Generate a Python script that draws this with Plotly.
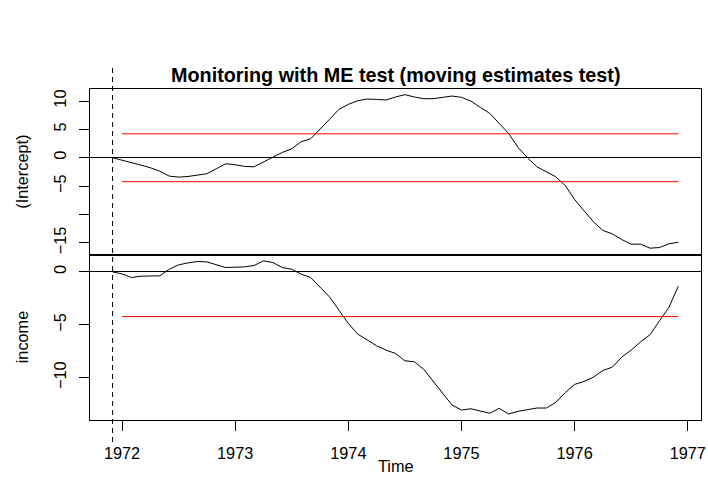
import numpy as np
import plotly.graph_objects as go

# ---- data (monthly, Dec 1971 .. Dec 1976) ----
start_year = 1971 + 11/12
n_obs = 61
time = [start_year + i/12 for i in range(n_obs)]

intercept = [0.0, -0.41, -0.76, -1.29, -1.76, -2.35, -3.23, -3.41, -3.30, -3.10,
             -2.82, -1.94, -1.06, -1.23, -1.53, -1.59, -0.76, 0.12, 0.94, 1.59,
             2.82, 3.35, 5.00, 6.76, 8.53, 9.41, 10.06, 10.35, 10.29, 10.18,
             10.71, 11.12, 10.71, 10.41, 10.41, 10.71, 10.88, 10.65, 10.00, 8.88,
             7.82, 6.06, 4.29, 1.82, 0.00, -1.59, -2.41, -3.35, -4.88, -7.35,
             -9.35, -11.29, -12.82, -13.41, -14.41, -15.23, -15.23, -15.94, -15.82, -15.18,
             -14.88]

income = [0.0, -0.19, -0.53, -0.41, -0.39, -0.38, 0.25, 0.66, 0.85, 0.98,
          0.94, 0.69, 0.41, 0.44, 0.47, 0.60, 1.04, 0.88, 0.41, 0.25,
          -0.22, -0.53, -1.41, -2.36, -3.61, -4.87, -5.88, -6.44, -6.98, -7.39,
          -7.70, -8.40, -8.49, -9.21, -10.31, -11.47, -12.58, -13.05, -12.93, -13.14,
          -13.35, -12.89, -13.42, -13.17, -13.02, -12.86, -12.86, -12.33, -11.41, -10.63,
          -10.35, -9.94, -9.31, -9.00, -8.05, -7.39, -6.60, -5.94, -4.62, -3.36,
          -1.35]

boundary_level = 4.22
boundary_x = [1972.0, 1976 + 11/12]
x_ticks = [1972, 1973, 1974, 1975, 1976, 1977]
y1_ticks = [10, 5, 0, -5, -10, -15]
y1_ticktext = ["10", "5", "0", "\u22125", "", "\u221215"]
y2_ticks = [0, -5, -10]
y2_ticktext = ["0", "\u22125", "\u221210"]

FONT = "Liberation Sans, Arial, Helvetica, sans-serif"
FS = 16.3

fig = go.Figure()
# top panel
fig.add_trace(go.Scatter(x=time, y=intercept, mode="lines",
                         line=dict(color="black", width=1), xaxis="x", yaxis="y"))
for s in (1, -1):
    fig.add_trace(go.Scatter(x=boundary_x, y=[s*boundary_level]*2, mode="lines",
                             line=dict(color="#ff0000", width=1), xaxis="x", yaxis="y"))
# bottom panel
fig.add_trace(go.Scatter(x=time, y=income, mode="lines",
                         line=dict(color="black", width=1), xaxis="x2", yaxis="y2"))
for s in (1, -1):
    fig.add_trace(go.Scatter(x=boundary_x, y=[s*boundary_level]*2, mode="lines",
                             line=dict(color="#ff0000", width=1), xaxis="x2", yaxis="y2"))

xrange = [1971.717, 1977.117]
common_y = dict(showgrid=False, ticks="outside", ticklen=10, tickcolor="black",
                tickangle=-90, showline=True, linecolor="black", linewidth=1, mirror=True,
                zeroline=True, zerolinecolor="black", zerolinewidth=1, automargin=False,
                tickfont=dict(family=FONT, size=FS, color="black"), ticklabelstandoff=6)

fig.update_layout(
    width=708, height=500,
    paper_bgcolor="white", plot_bgcolor="white",
    margin=dict(l=90, r=7, t=89, b=80, autoexpand=False),
    showlegend=False,
    xaxis=dict(domain=[0, 1], anchor="y", range=xrange, showgrid=False, zeroline=False,
               showticklabels=False, ticks="", showline=True, linecolor="black",
               linewidth=1, mirror=True, automargin=False),
    yaxis=dict(domain=[0.5, 1], anchor="x", range=[-17.05, 12.12],
               tickvals=y1_ticks, ticktext=y1_ticktext, **common_y),
    xaxis2=dict(domain=[0, 1], anchor="y2", range=xrange, showgrid=False, zeroline=False,
                tickvals=x_ticks, ticks="outside", ticklen=10, tickcolor="black",
                showline=True, linecolor="black", linewidth=1, mirror=True, automargin=False,
                tickfont=dict(family=FONT, size=FS, color="black"), ticklabelstandoff=8),
    yaxis2=dict(domain=[0, 0.5], anchor="x2", range=[-13.99, 1.64],
                tickvals=y2_ticks, ticktext=y2_ticktext, **common_y),
)

# dashed vertical line at start of monitoring
fig.add_shape(type="line", xref="x", yref="paper", x0=start_year, x1=start_year,
              y0=(420-442)/331, y1=1+(89-68)/331,
              line=dict(color="black", width=1, dash="5px,4px"))

annots = [
    dict(text="<b>Monitoring with ME test (moving estimates test)</b>", x=0.5, y=1+(89-75)/331,
         font=dict(family=FONT, size=19.8, color="black"), textangle=0),
    dict(text="Time", x=0.5, y=(420-466)/331, font=dict(family=FONT, size=FS, color="black"), textangle=0),
    dict(text="(Intercept)", x=(22-90)/611, y=0.75, font=dict(family=FONT, size=FS, color="black"), textangle=-90),
    dict(text="income", x=(22-90)/611, y=0.25, font=dict(family=FONT, size=FS, color="black"), textangle=-90),
]
for a in annots:
    fig.add_annotation(xref="paper", yref="paper", showarrow=False,
                       xanchor="center", yanchor="middle", **a)

fig.write_html("out.html", config={"displayModeBar": False},
               post_script="document.body.style.margin='0';document.body.style.overflow='hidden';")
